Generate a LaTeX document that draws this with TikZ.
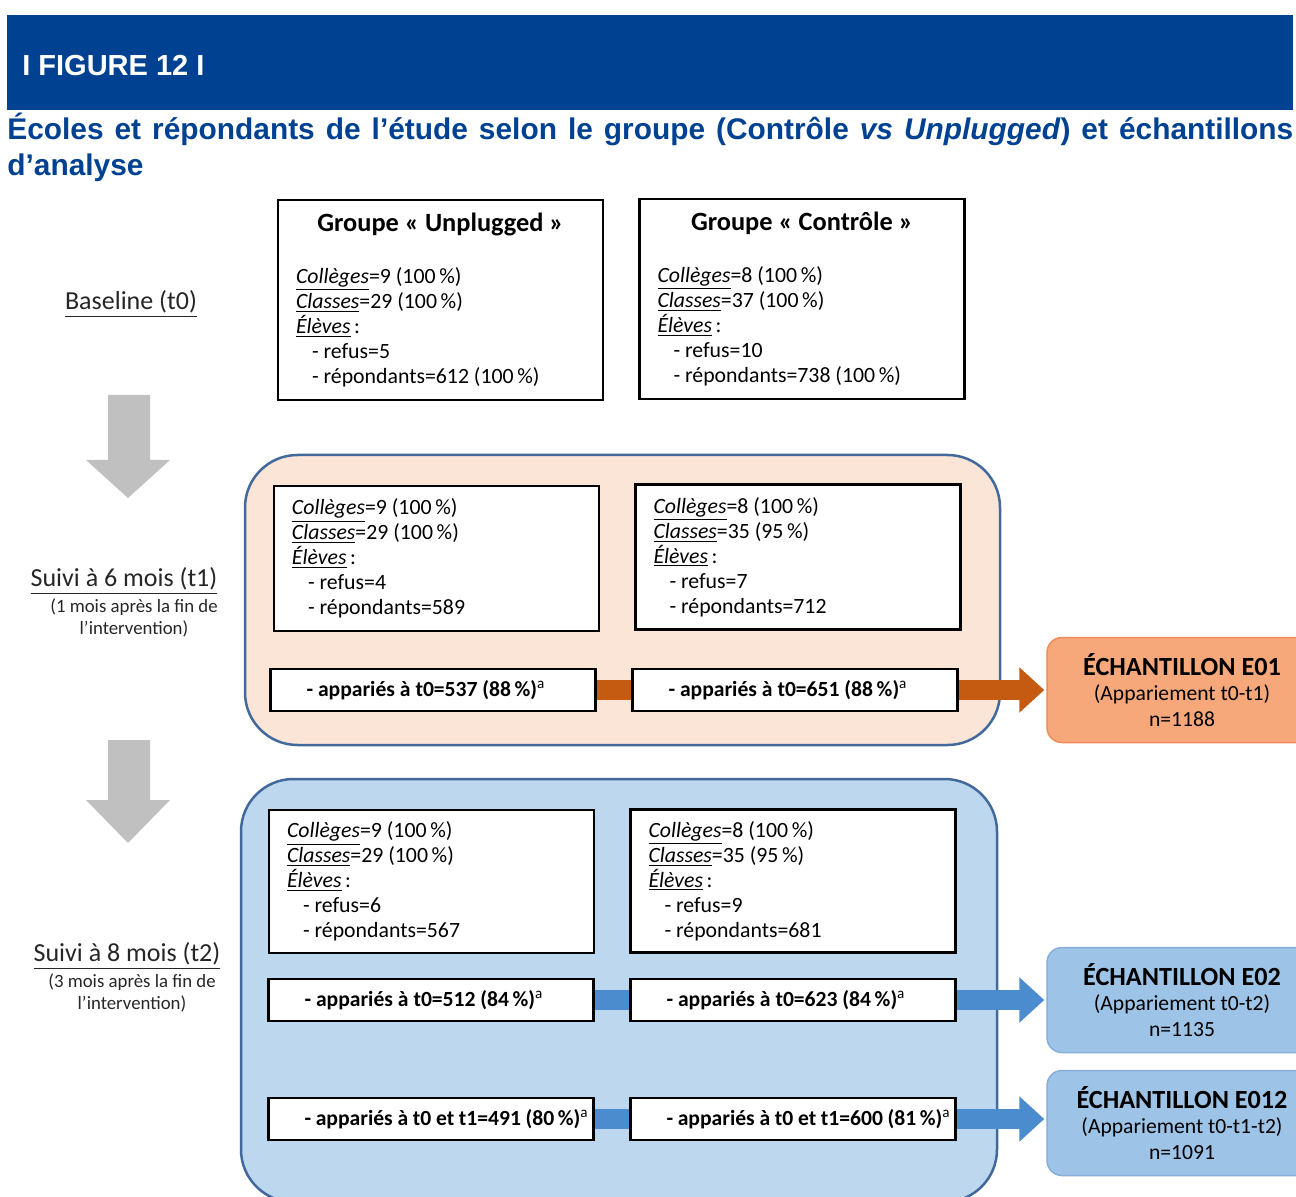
\documentclass[tikz,border=0pt]{standalone}
\usepackage{fontspec}
\setmainfont{Carlito}
\newfontfamily\arialfont{Liberation Sans}
\usetikzlibrary{arrows.meta}

\definecolor{hdrblue}{RGB}{0,66,145}
\definecolor{panelorange}{RGB}{251,229,214}
\definecolor{panelblue}{RGB}{189,215,238}
\definecolor{panelline}{RGB}{65,105,155}
\definecolor{bandorange}{RGB}{197,90,17}
\definecolor{bandblue}{RGB}{74,140,205}
\definecolor{echorange}{RGB}{247,168,122}
\definecolor{echorangeline}{RGB}{240,140,90}
\definecolor{echblue}{RGB}{157,195,230}
\definecolor{echblueline}{RGB}{135,175,218}
\definecolor{arrowgray}{RGB}{192,192,192}

\newcommand{\uit}[1]{\underline{\textit{#1}}}
\newcommand{\grptitle}[1]{\makebox[\linewidth]{\bfseries\fontsize{15}{18}\selectfont Groupe «~#1~»}\\[5.4mm]}
\newcommand{\paired}[1]{\hspace*{6.2mm}- appariés à #1\textsuperscript{\mdseries a}}

\tikzset{
  grpbox/.style={draw=black, line width=0.45mm, fill=white, text width=57.8mm,
    inner xsep=3.6mm, align=flush left, font=\fontsize{12.4}{14.2}\selectfont},
  pairbox/.style={draw=black, line width=0.45mm, fill=white, text width=63mm,
    inner xsep=1mm, minimum height=8.4mm, align=flush left,
    font=\bfseries\fontsize{12.3}{14.2}\selectfont},
  echbox/.style={rounded corners=3mm, line width=0.3mm, minimum width=54mm,
    minimum height=21mm, align=flush center, font=\fontsize{12.3}{14.6}\selectfont},
  lbl/.style={text=black!85, font=\fontsize{14.8}{17}\selectfont},
  note/.style={text=black!85, align=flush center, font=\fontsize{10.7}{12.5}\selectfont},
  band/.style={line width=4mm},
  bandtip/.style={-{Triangle[width=8.8mm, length=5mm]}, shorten >=0.4mm},
  panel/.style={draw=panelline, line width=0.5mm, rounded corners=10.5mm},
  graydown/.style={fill=arrowgray},
}

\begin{document}
\begin{tikzpicture}[x=0.2mm, y=-0.2mm]
\useasboundingbox (0,0) rectangle (1296,1197);
\clip (0,0) rectangle (1296,1197);

% header
\fill[hdrblue] (7,15) rectangle (1293,110);
\node[anchor=west, inner sep=0, text=white,
  font=\arialfont\bfseries\fontsize{16.5}{20}\selectfont] (fig) at (22,66) {I FIGURE 12 I};
\node[anchor=north west, inner sep=0, text width=257.2mm, align=justify, text=hdrblue,
  font=\arialfont\bfseries\fontsize{17}{20.5}\selectfont] (title) at (7,113)
  {Écoles et répondants de l’étude selon le groupe (Contrôle \textit{vs Unplugged}) et échantillons\linebreak d’analyse};

% time points
\node[lbl] (base) at (131,304) {\underline{Baseline (t0)}};
\node[lbl] (suivi1) at (124,581) {\underline{Suivi à 6 mois (t1)}};
\node[note] (note1) at (134,618) {(1 mois après la fin de\\l’intervention)};
\node[lbl] (suivi2) at (127,956) {\underline{Suivi à 8 mois (t2)}};
\node[note] (note2) at (132,993) {(3 mois après la fin de\\l’intervention)};

\path[graydown] (108,395) -- (150,395) -- (150,460) -- (170,460) -- (128,498)
  -- (86,460) -- (108,460) -- cycle;
\path[graydown] (108,740) -- (150,740) -- (150,800) -- (170,800) -- (128,843)
  -- (86,800) -- (108,800) -- cycle;

% panels
\draw[panel, fill=panelorange] (245,455) rectangle (1000,745);
\draw[panel, fill=panelblue] (241,779) rectangle (997,1202);

% baseline
\node[grpbox, minimum height=40mm] (u0) at (440.5,300) {\grptitle{Unplugged}
  \uit{Collèges}=9 (100\,\%)\\
  \uit{Classes}=29 (100\,\%)\\
  \uit{Élèves}\,:\\
  \hspace*{3.2mm}- refus=5\\
  \hspace*{3.2mm}- répondants=612 (100\,\%)};
\node[grpbox, minimum height=40mm] (c0) at (802,299) {\grptitle{Contrôle}
  \uit{Collèges}=8 (100\,\%)\\
  \uit{Classes}=37 (100\,\%)\\
  \uit{Élèves}\,:\\
  \hspace*{3.2mm}- refus=10\\
  \hspace*{3.2mm}- répondants=738 (100\,\%)};

% t1
\node[grpbox, minimum height=29mm] (u1) at (436.5,558.5) {\uit{Collèges}=9 (100\,\%)\\
  \uit{Classes}=29 (100\,\%)\\
  \uit{Élèves}\,:\\
  \hspace*{3.2mm}- refus=4\\
  \hspace*{3.2mm}- répondants=589};
\node[grpbox, minimum height=29mm] (c1) at (798,557) {\uit{Collèges}=8 (100\,\%)\\
  \uit{Classes}=35 (95\,\%)\\
  \uit{Élèves}\,:\\
  \hspace*{3.2mm}- refus=7\\
  \hspace*{3.2mm}- répondants=712};
\node[pairbox] (pu1) at (433,690) {\paired{t0=537 (88\,\%)}};
\node[pairbox] (pc1) at (795,690) {\paired{t0=651 (88\,\%)}};
\node[echbox, fill=echorange, draw=echorangeline] (e01) at (1182,690)
  {{\bfseries\fontsize{14.9}{17}\selectfont ÉCHANTILLON E01}\\(Appariement t0-t1)\\n=1188};

% t2
\node[grpbox, minimum height=28.6mm] (u2) at (431.5,881.5) {\uit{Collèges}=9 (100\,\%)\\
  \uit{Classes}=29 (100\,\%)\\
  \uit{Élèves}\,:\\
  \hspace*{3.2mm}- refus=6\\
  \hspace*{3.2mm}- répondants=567};
\node[grpbox, minimum height=28.6mm] (c2) at (793,881) {\uit{Collèges}=8 (100\,\%)\\
  \uit{Classes}=35 (95\,\%)\\
  \uit{Élèves}\,:\\
  \hspace*{3.2mm}- refus=9\\
  \hspace*{3.2mm}- répondants=681};
\node[pairbox] (pu2) at (431,1000) {\paired{t0=512 (84\,\%)}};
\node[pairbox] (pc2) at (793,1000) {\paired{t0=623 (84\,\%)}};
\node[pairbox] (pu3) at (431,1119) {\paired{t0 et t1=491 (80\,\%)}};
\node[pairbox] (pc3) at (793,1119) {\paired{t0 et t1=600 (81\,\%)}};
\node[echbox, fill=echblue, draw=echblueline] (e02) at (1182,1000)
  {{\bfseries\fontsize{14.9}{17}\selectfont ÉCHANTILLON E02}\\(Appariement t0-t2)\\n=1135};
\node[echbox, fill=echblue, draw=echblueline] (e012) at (1182,1123)
  {{\bfseries\fontsize{14.9}{17}\selectfont ÉCHANTILLON E012}\\(Appariement t0-t1-t2)\\n=1091};

% matching bands
\draw[band, bandorange] (pu1.east) -- (pc1.west);
\draw[band, bandorange, bandtip] (pc1.east) -- (e01.west);
\draw[band, bandblue] (pu2.east) -- (pc2.west);
\draw[band, bandblue, bandtip] (pc2.east) -- (e02.west);
\draw[band, bandblue] (pu3.east) -- (pc3.west);
\draw[band, bandblue, bandtip] (pc3.east) -- (pc3.east -| e012.west);
\end{tikzpicture}
\end{document}
